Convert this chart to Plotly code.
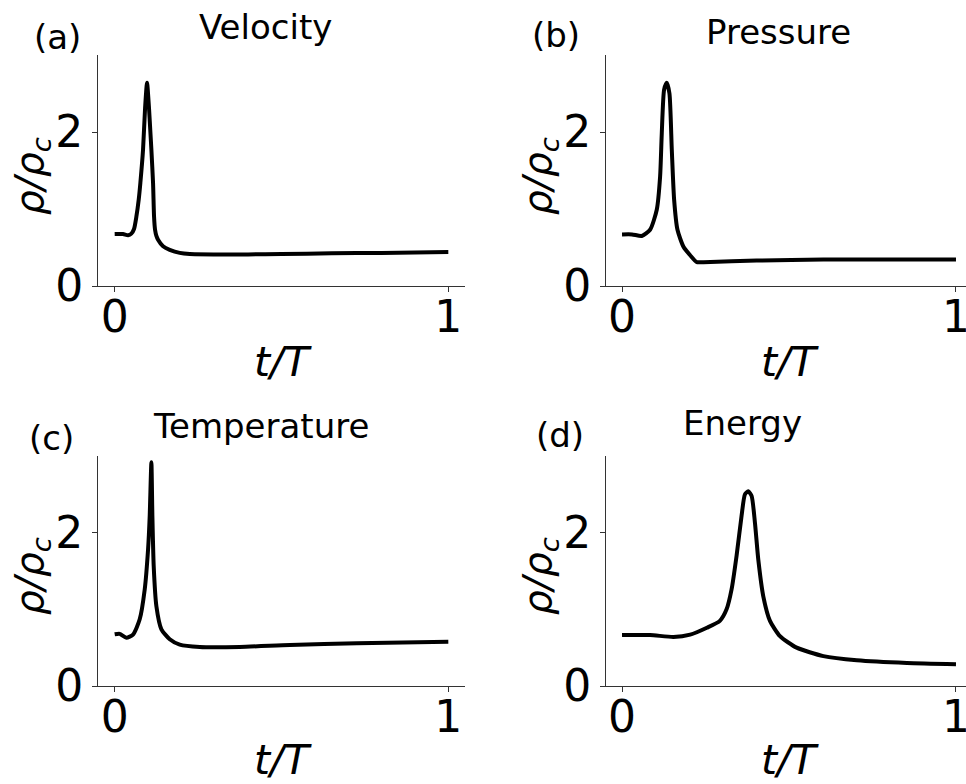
import plotly.graph_objects as go

W, H = 966, 784

# ---------------- data ----------------
t_velocity = [0.0, 0.025, 0.04, 0.05, 0.058, 0.065, 0.072, 0.077, 0.085, 0.091, 0.097,
              0.103, 0.107, 0.110, 0.115, 0.118, 0.121, 0.125, 0.130, 0.145, 0.165, 0.195,
              0.225, 0.3, 0.4, 0.5, 0.65, 0.8, 1.0]
rho_velocity = [0.675, 0.675, 0.66, 0.68, 0.74, 0.90, 1.12, 1.34, 1.77, 2.3, 2.64,
                2.3, 2.0, 1.77, 1.34, 0.9, 0.73, 0.65, 0.60, 0.515, 0.47, 0.43,
                0.415, 0.41, 0.41, 0.415, 0.425, 0.43, 0.44]

t_pressure = [0.0, 0.03, 0.059, 0.084, 0.104, 0.114, 0.119, 0.126, 0.134, 0.142, 0.149,
              0.156, 0.166, 0.184, 0.204, 0.224, 0.244, 0.403, 0.603, 1.0]
rho_pressure = [0.67, 0.67, 0.65, 0.73, 0.99, 1.42, 1.98, 2.55, 2.64, 2.50, 1.77,
                1.12, 0.73, 0.51, 0.40, 0.31, 0.31, 0.33, 0.345, 0.345]

t_temperature = [0.0, 0.015, 0.035, 0.055, 0.075, 0.09, 0.1, 0.105, 0.110, 0.113, 0.117,
                 0.125, 0.14, 0.165, 0.195, 0.255, 0.375, 0.525, 0.726, 1.0]
rho_temperature = [0.674, 0.68, 0.63, 0.67, 0.87, 1.26, 1.78, 2.22, 2.92, 2.22, 1.56,
                   1.04, 0.74, 0.61, 0.54, 0.51, 0.51, 0.535, 0.557, 0.578]

t_energy = [0.0, 0.084, 0.154, 0.204, 0.254, 0.293, 0.313, 0.328, 0.343, 0.358, 0.368,
            0.378, 0.388, 0.398, 0.408, 0.423, 0.443, 0.473, 0.523, 0.603, 0.703, 0.853, 1.0]
rho_energy = [0.665, 0.665, 0.64, 0.67, 0.76, 0.85, 1.0, 1.26, 1.70, 2.22, 2.50,
              2.54, 2.48, 2.13, 1.65, 1.17, 0.85, 0.65, 0.50, 0.39, 0.335, 0.30, 0.285]

titles = ["Velocity", "Pressure", "Temperature", "Energy"]
panel_labels = ["(a)", "(b)", "(c)", "(d)"]
x_ticks = [0, 1]
y_ticks = [0, 2]
x_label = "<i>t/T</i>"
y_label = "<i>ρ/ρ<sub>c</sub></i>"

series = [(t_velocity, rho_velocity), (t_pressure, rho_pressure),
          (t_temperature, rho_temperature), (t_energy, rho_energy)]

# ---------------- layout geometry (pixels) ----------------
FONT = "DejaVu Sans"
left_px = [(98, 465), (606, 966), (98, 465), (606, 966)]
xranges = [[-0.05, 1.05], [-0.048, 1.030], [-0.05, 1.05], [-0.048, 1.030]]
top_px = [(55, 286), (55, 286), (456, 686), (456, 686)]

title_pos = [(265, 27), (778, 32), (261, 426), (742, 423)]
label_pos = [(57, 37), (556, 35), (51, 438), (560, 435)]
xlab_pos = [(283, 362), (790, 362), (283, 760), (790, 760)]
ylab_pos = [(32, 176), (540, 176), (32, 576), (540, 576)]

def px_x(p):
    return p / W

def px_y(p):
    return 1 - p / H

fig = go.Figure()
annotations = []
for i, (tt, rr) in enumerate(series):
    n = "" if i == 0 else str(i + 1)
    fig.add_trace(go.Scatter(x=tt, y=rr, mode="lines",
                             line=dict(color="black", width=4, shape="spline", smoothing=0.6),
                             xaxis="x" + n, yaxis="y" + n, showlegend=False,
                             hoverinfo="skip"))
    x0, x1 = left_px[i]
    y0, y1 = top_px[i]
    axis_common = dict(showgrid=False, zeroline=False, showline=True, linecolor="#333",
                       linewidth=1, ticks="outside", ticklen=5, tickwidth=1, tickcolor="#333",
                       tickfont=dict(family=FONT, size=44, color="black"), mirror=False,
                       ticklabeloverflow="allow", automargin=False)
    fig.layout["xaxis" + n] = dict(domain=[px_x(x0), px_x(x1)], range=xranges[i],
                                   anchor="y" + n, tickvals=x_ticks,
                                   ticklabelstandoff=-13,
                                   ticktext=[str(v) for v in x_ticks], **axis_common)
    fig.layout["yaxis" + n] = dict(domain=[px_y(y1), px_y(y0)], range=[0, 3],
                                   anchor="x" + n, tickvals=y_ticks,
                                   ticktext=[str(v) for v in y_ticks], **axis_common)
    annotations.append(dict(text=titles[i], x=px_x(title_pos[i][0]), y=px_y(title_pos[i][1]),
                            xref="paper", yref="paper", xanchor="center", yanchor="middle",
                            showarrow=False, font=dict(family=FONT, size=34, color="black")))
    annotations.append(dict(text=panel_labels[i], x=px_x(label_pos[i][0]), y=px_y(label_pos[i][1]),
                            xref="paper", yref="paper", xanchor="center", yanchor="middle",
                            showarrow=False, font=dict(family=FONT, size=34, color="black")))
    annotations.append(dict(text=x_label, x=px_x(xlab_pos[i][0]), y=px_y(xlab_pos[i][1]),
                            xref="paper", yref="paper", xanchor="center", yanchor="middle",
                            showarrow=False, font=dict(family=FONT, size=41, color="black")))
    annotations.append(dict(text=y_label, x=px_x(ylab_pos[i][0]), y=px_y(ylab_pos[i][1]),
                            xref="paper", yref="paper", xanchor="center", yanchor="middle",
                            textangle=-90, showarrow=False,
                            font=dict(family=FONT, size=39, color="black")))

fig.update_layout(width=W, height=H, autosize=False,
                  margin=dict(l=0, r=0, t=0, b=0, pad=0, autoexpand=False),
                  showlegend=False,
                  paper_bgcolor="white", plot_bgcolor="white",
                  annotations=annotations)

fig.write_html("out.html",
               config={"displayModeBar": False, "responsive": False},
               post_script="document.body.style.margin='0';document.body.style.overflow='hidden';")
